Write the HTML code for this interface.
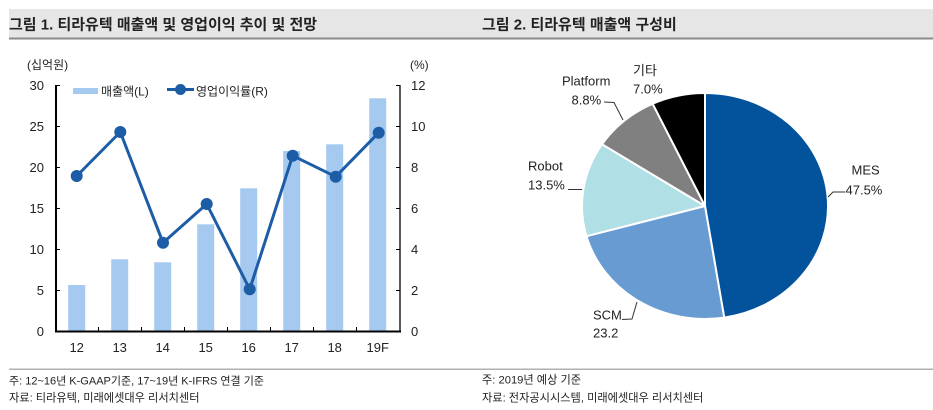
<!DOCTYPE html>
<html><head><meta charset="utf-8"><style>
html,body{margin:0;padding:0;background:#fff;}
svg{display:block;}
text{font-family:"Liberation Sans","Noto Sans CJK KR",sans-serif;fill:#222;}
</style></head><body>
<svg width="933" height="410" viewBox="0 0 933 410" xmlns="http://www.w3.org/2000/svg">
<!-- title bands -->
<rect x="9" y="9" width="924" height="28.5" fill="#e6e6e6"/>
<rect x="9" y="37.5" width="924" height="2" fill="#8a8a8a"/>
<text x="9" y="29.5" font-size="15" font-weight="bold" fill="#111">그림 1. 티라유텍 매출액 및 영업이익 추이 및 전망</text>
<text x="482" y="29.5" font-size="15" font-weight="bold" fill="#111">그림 2. 티라유텍 매출액 구성비</text>

<!-- footers -->
<rect x="9" y="368.5" width="924" height="1.5" fill="#b0b0b0"/>
<text x="9" y="384.5" font-size="11" fill="#333">주: 12~16년 K-GAAP기준, 17~19년 K-IFRS 연결 기준</text>
<text x="9" y="401.5" font-size="11.2" fill="#333">자료: 티라유텍, 미래에셋대우 리서치센터</text>
<text x="482" y="383.5" font-size="11.2" fill="#333">주: 2019년 예상 기준</text>
<text x="482" y="401.5" font-size="11.2" fill="#333">자료: 전자공시시스템, 미래에셋대우 리서치센터</text>

<!-- left chart -->
<text x="27" y="69" font-size="12">(십억원)</text>
<text x="410" y="69" font-size="12">(%)</text>

<!-- bars -->
<g fill="#a6caef">
<rect x="68.2" y="285" width="17" height="46"/>
<rect x="111.2" y="259.3" width="17" height="71.7"/>
<rect x="154.2" y="262.3" width="17" height="68.7"/>
<rect x="197.2" y="224.3" width="17" height="106.7"/>
<rect x="240.2" y="188.3" width="17" height="142.7"/>
<rect x="283.2" y="151" width="17" height="180"/>
<rect x="326.2" y="144.3" width="17" height="186.7"/>
<rect x="369.2" y="98.3" width="17" height="232.7"/>
</g>

<!-- axes -->
<line x1="56" y1="85" x2="56" y2="332" stroke="#000" stroke-width="2"/>
<line x1="55" y1="331.5" x2="401" y2="331.5" stroke="#000" stroke-width="2"/>
<line x1="400" y1="85" x2="400" y2="332" stroke="#000" stroke-width="1.3"/>
<g stroke="#000" stroke-width="1">
<line x1="56" y1="85.5" x2="60" y2="85.5"/>
<line x1="56" y1="126.5" x2="60" y2="126.5"/>
<line x1="56" y1="167.5" x2="60" y2="167.5"/>
<line x1="56" y1="208.5" x2="60" y2="208.5"/>
<line x1="56" y1="249.5" x2="60" y2="249.5"/>
<line x1="56" y1="290.5" x2="60" y2="290.5"/>
<line x1="400" y1="85.5" x2="396" y2="85.5"/>
<line x1="400" y1="126.5" x2="396" y2="126.5"/>
<line x1="400" y1="167.5" x2="396" y2="167.5"/>
<line x1="400" y1="208.5" x2="396" y2="208.5"/>
<line x1="400" y1="249.5" x2="396" y2="249.5"/>
<line x1="400" y1="290.5" x2="396" y2="290.5"/>
<line x1="98.5" y1="331" x2="98.5" y2="327"/>
<line x1="141.5" y1="331" x2="141.5" y2="327"/>
<line x1="184.5" y1="331" x2="184.5" y2="327"/>
<line x1="227.5" y1="331" x2="227.5" y2="327"/>
<line x1="270.5" y1="331" x2="270.5" y2="327"/>
<line x1="313.5" y1="331" x2="313.5" y2="327"/>
<line x1="356.5" y1="331" x2="356.5" y2="327"/>
</g>

<!-- left tick labels -->
<g font-size="13" text-anchor="end">
<text x="44" y="90">30</text>
<text x="44" y="131">25</text>
<text x="44" y="172">20</text>
<text x="44" y="213">15</text>
<text x="44" y="254">10</text>
<text x="44" y="295">5</text>
<text x="44" y="336">0</text>
</g>
<!-- right tick labels -->
<g font-size="13">
<text x="411" y="90">12</text>
<text x="411" y="131">10</text>
<text x="411" y="172">8</text>
<text x="411" y="213">6</text>
<text x="411" y="254">4</text>
<text x="411" y="295">2</text>
<text x="411" y="336">0</text>
</g>
<!-- x labels -->
<g font-size="13" text-anchor="middle">
<text x="76.7" y="352">12</text>
<text x="119.7" y="352">13</text>
<text x="162.7" y="352">14</text>
<text x="205.7" y="352">15</text>
<text x="248.7" y="352">16</text>
<text x="291.7" y="352">17</text>
<text x="334.7" y="352">18</text>
<text x="377.7" y="352">19F</text>
</g>

<!-- line series -->
<polyline points="76.7,176 120.3,132 163,242.7 206.7,204 249.7,289.3 292.7,155.7 335.7,176.7 378.7,132.7" fill="none" stroke="#1d5da6" stroke-width="3" stroke-linejoin="round"/>
<g fill="#1d5da6">
<circle cx="76.7" cy="176" r="6"/>
<circle cx="120.3" cy="132" r="6"/>
<circle cx="163" cy="242.7" r="6"/>
<circle cx="206.7" cy="204" r="6"/>
<circle cx="249.7" cy="289.3" r="6"/>
<circle cx="292.7" cy="155.7" r="6"/>
<circle cx="335.7" cy="176.7" r="6"/>
<circle cx="378.7" cy="132.7" r="6"/>
</g>

<!-- legend -->
<rect x="73" y="88" width="25" height="6" fill="#a6caef"/>
<text x="101" y="95.5" font-size="12">매출액(L)</text>
<line x1="167" y1="89.5" x2="194" y2="89.5" stroke="#1d5da6" stroke-width="3"/>
<circle cx="180.5" cy="89.5" r="5.5" fill="#1d5da6"/>
<text x="196" y="95.5" font-size="12">영업이익률(R)</text>

<!-- pie -->
<g stroke="#fff" stroke-width="2" stroke-linejoin="round">
<path d="M705,206 L705,93 A123,113 0 0 1 724.24,317.61 Z" fill="#02529c"/>
<path d="M705,206 L724.24,317.61 A123,113 0 0 1 586.46,236.16 Z" fill="#699bd3"/>
<path d="M705,206 L586.46,236.16 A123,113 0 0 1 602.00,144.26 Z" fill="#b0dfe5"/>
<path d="M705,206 L602.00,144.26 A123,113 0 0 1 652.63,103.75 Z" fill="#808080"/>
<path d="M705,206 L652.63,103.75 A123,113 0 0 1 705,93 Z" fill="#000"/>
</g>

<!-- leader lines -->
<g stroke="#333" stroke-width="1" fill="none">
<polyline points="828,197 833,192 845,192"/>
<polyline points="568,189.5 582,189.5"/>
<polyline points="604,102 614,102.5 623,120"/>
<polyline points="622,319.5 632,319 637,302"/>
</g>

<!-- pie labels -->
<g font-size="13">
<text x="851.5" y="174.5">MES</text>
<text x="845.5" y="194.5">47.5%</text>
<text x="528" y="170.5">Robot</text>
<text x="528" y="189.5">13.5%</text>
<text x="562" y="85.5">Platform</text>
<text x="571.5" y="104.5">8.8%</text>
<text x="633" y="75">기타</text>
<text x="633" y="93.5">7.0%</text>
<text x="593" y="319.5">SCM</text>
<text x="593" y="337.5">23.2</text>
</g>
</svg>
</body></html>
